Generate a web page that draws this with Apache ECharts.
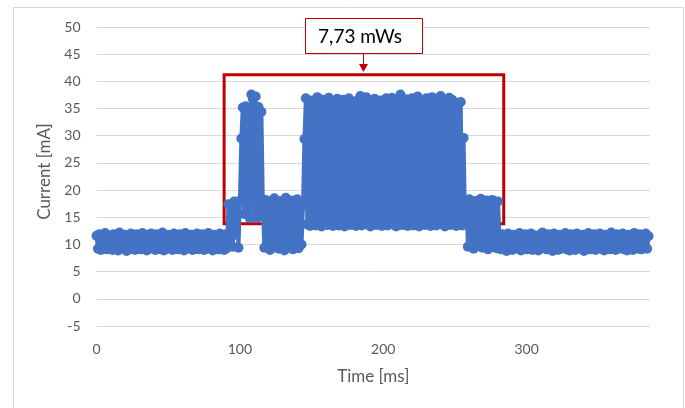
<!DOCTYPE html>
<html>
<head>
<meta charset="utf-8">
<script src="https://cdn.jsdelivr.net/npm/echarts@6/dist/echarts.min.js"></script>
<style>html,body{margin:0;padding:0;background:#fff}#c{width:685px;height:408px}</style>
</head>
<body>
<div id="c"></div>
<script>
// Sampling: one sample per millisecond, starting at 0 ms
const sampleStartMs = 0;
const sampleStepMs = 1;

// Idle phase (0-91 ms)
const idle1 = [
11.6, 9.2, 11.9, 9.0, 11.4, 9.6, 12.1, 9.1, 11.7, 9.3,
10.8, 9.0, 11.9, 9.5, 11.3, 8.9, 12.2, 9.2, 11.6, 9.4,
11.8, 8.8, 11.5, 9.1, 12.0, 9.6, 11.2, 9.0, 11.9, 9.3,
11.7, 9.1, 12.1, 9.4, 11.4, 8.9, 11.8, 9.2, 12.0, 9.5,
11.3, 9.0, 11.9, 9.3, 11.6, 9.1, 12.2, 8.9, 11.5, 9.4,
11.8, 9.2, 11.1, 9.0, 12.0, 9.5, 11.7, 9.1, 11.9, 9.3,
11.4, 8.9, 12.1, 9.2, 11.6, 9.4, 11.8, 9.0, 11.3, 9.3,
12.0, 9.1, 11.7, 9.5, 11.9, 9.0, 11.5, 9.2, 12.1, 9.4,
11.6, 8.9, 11.8, 9.3, 11.4, 9.1, 12.0, 9.2, 11.7, 9.0,
11.9, 9.3];
// Wake-up (92-100 ms)
const wake = [17.4, 10.2, 16.8, 9.6, 17.9, 11.8, 17.2, 9.4, 18.1];
// First burst (101-115 ms)
const burst1 = [29.5, 35.2, 15.6, 35.4, 16.2, 35.0, 14.8, 37.6, 36.8, 15.4, 37.2, 14.9, 35.3, 15.2, 34.4];
// Intermediate (116-144 ms)
const mid1 = [17.6, 9.4, 18.2, 10.1, 17.3, 9.0, 17.9, 9.6, 18.5, 10.4, 17.1, 9.2, 18.0, 9.8, 17.5, 8.9, 18.6, 9.5, 17.7, 10.2, 18.1, 9.1, 17.4, 9.7, 18.3, 9.3, 17.8, 10.0, 17.2];
// Main burst (145-257 ms)
const burst2 = [
29.4, 36.9, 13.7, 36.2, 13.4, 36.5, 14.0, 35.9, 13.5, 37.1,
13.8, 36.3, 13.3, 36.6, 13.9, 36.0, 13.6, 37.0, 13.8, 36.4,
13.4, 35.9, 14.1, 36.8, 13.5, 36.1, 13.7, 36.6, 13.3, 35.8,
14.0, 36.9, 13.6, 36.2, 13.8, 36.0, 13.4, 36.5, 13.9, 37.3,
13.5, 36.1, 13.9, 37.1, 13.7, 36.6, 13.3, 36.3, 14.0, 36.8,
13.6, 35.9, 13.8, 36.5, 13.4, 36.1, 13.9, 36.9, 13.5, 36.0,
14.1, 37.0, 13.7, 36.4, 13.3, 36.0, 13.9, 37.6, 13.6, 36.3,
13.8, 36.7, 13.4, 35.8, 14.0, 36.9, 13.5, 36.2, 13.7, 37.2,
13.3, 36.4, 13.9, 35.9, 13.6, 36.9, 14.0, 36.2, 13.4, 37.1,
13.8, 36.5, 13.5, 36.0, 14.0, 37.3, 13.7, 36.7, 13.3, 36.3,
13.9, 37.0, 13.6, 36.6, 14.0, 36.1, 13.4, 35.9, 13.8, 36.2,
13.5, 29.6, 13.7];
// Intermediate (258-280 ms)
const mid2 = [17.8, 9.6, 18.3, 10.1, 17.4, 9.2, 18.0, 9.8, 17.6, 10.3, 18.4, 9.4, 17.2, 9.9, 18.1, 9.1, 17.7, 10.0, 18.2, 9.5, 17.5, 9.3, 17.9];
// Idle phase (281-385 ms)
const idle2 = [
11.5, 9.1, 11.9, 9.4, 11.2, 8.8, 12.0, 9.3, 11.7, 9.0,
11.8, 9.5, 11.3, 9.2, 12.1, 8.9, 11.6, 9.4, 11.9, 9.1,
11.4, 9.3, 12.0, 9.0, 11.7, 9.6, 11.5, 8.9, 11.8, 9.2,
12.2, 9.4, 11.6, 9.1, 11.9, 9.3, 11.3, 8.8, 12.0, 9.5,
11.7, 9.0, 11.8, 9.2, 11.5, 9.4, 12.1, 9.1, 11.6, 8.9,
11.9, 9.3, 11.4, 9.0, 12.0, 9.5, 11.7, 9.2, 11.8, 8.8,
11.5, 9.4, 12.1, 9.1, 11.6, 9.3, 11.9, 9.0, 11.3, 9.2,
12.0, 9.5, 11.7, 8.9, 11.8, 9.3, 11.5, 9.1, 12.2, 9.4,
11.6, 9.0, 11.9, 9.2, 11.4, 9.5, 12.0, 9.1, 11.7, 8.9,
11.8, 9.3, 11.5, 9.0, 12.1, 9.4, 11.6, 9.2, 11.9, 9.1,
11.7, 9.3, 12.0, 9.2, 11.5];

const xTicks = [0, 100, 200, 300];
const annotationText = '7,73 mWs';
const annotationRange = {t0: 89, t1: 284, i0: 13.8, i1: 41.2};

const current = [].concat(idle1, wake, burst1, mid1, burst2, mid2, idle2);
const seriesData = current.map((v, i) => [sampleStartMs + i * sampleStepMs, v]);

const chart = echarts.init(document.getElementById('c'), null, {renderer: 'canvas'});
const txt = '#595959';
const font = 'Lato, "Open Sans", sans-serif';
chart.setOption({
  animation: false,
  backgroundColor: '#fff',
  grid: {left: 96.5, right: 35, top: 27, bottom: 82},
  xAxis: {
    type: 'value', min: 0, max: 386, interval: 100,
    name: 'Time [ms]', nameLocation: 'middle', nameGap: 42,
    nameTextStyle: {color: txt, fontSize: 17, fontFamily: font},
    axisLine: {show: false}, axisTick: {show: false}, splitLine: {show: false},
    axisLabel: {color: txt, fontSize: 14, fontFamily: font, margin: 16, showMaxLabel: false,
      formatter: v => xTicks.includes(v) ? String(v) : ''}
  },
  yAxis: {
    type: 'value', min: -5, max: 50, interval: 5,
    name: 'Current [mA]', nameLocation: 'middle', nameGap: 40, nameRotate: 90,
    nameTextStyle: {color: txt, fontSize: 17, fontFamily: font, padding: [0, 0, 0, 10]},
    axisLine: {show: false}, axisTick: {show: false},
    splitLine: {lineStyle: {color: '#d9d9d9', width: 1}},
    axisLabel: {color: txt, fontSize: 14, fontFamily: font, margin: 16}
  },
  series: [{
    type: 'line', data: seriesData,
    symbol: 'circle', symbolSize: 10, showAllSymbol: true,
    lineStyle: {color: '#4472C4', width: 4},
    itemStyle: {color: '#4472C4', borderWidth: 0},
    z: 2
  }, {
    type: 'line', data: [], z: 5,
    markArea: {
      silent: true,
      itemStyle: {color: 'rgba(0,0,0,0)', borderColor: '#C00000', borderWidth: 3},
      data: [[{xAxis: annotationRange.t0, yAxis: annotationRange.i1}, {xAxis: annotationRange.t1, yAxis: annotationRange.i0}]]
    }
  }],
  graphic: [
    {type: 'rect', shape: {x: 13.5, y: 7.5, width: 670, height: 420}, style: {fill: 'none', stroke: '#d9d9d9', lineWidth: 1}, silent: true, z: -1},
    {type: 'rect', shape: {x: 305.5, y: 18.5, width: 117, height: 35}, style: {fill: '#fff', stroke: '#C00000', lineWidth: 1}, z: 10},
    {type: 'text', style: {x: 360, y: 37, text: annotationText, fill: '#000', fontSize: 19, fontFamily: font, textAlign: 'center', textVerticalAlign: 'middle'}, z: 11},
    {type: 'line', shape: {x1: 363.5, y1: 54, x2: 363.5, y2: 66}, style: {stroke: '#C00000', lineWidth: 1}, z: 10},
    {type: 'polygon', shape: {points: [[359, 64], [368, 64], [363.5, 72]]}, style: {fill: '#C00000'}, z: 10}
  ]
});
</script>
</body>
</html>
